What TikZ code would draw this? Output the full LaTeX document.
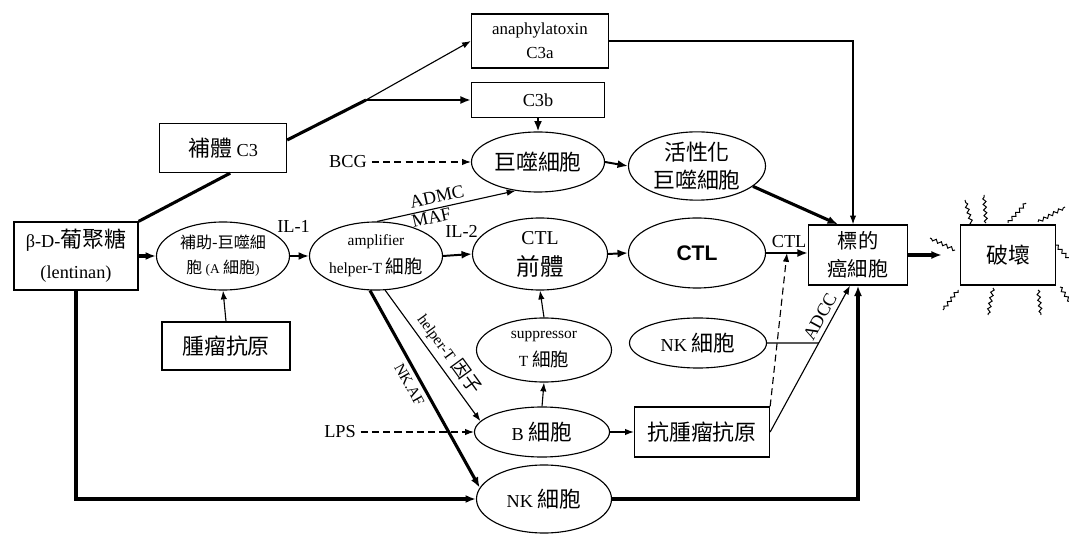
\documentclass[tikz,border=0pt]{standalone}
\usepackage{fontspec}
\setmainfont{Liberation Serif}
\newfontfamily\cjk[Scale=1.2]{Noto Sans CJK TC}
\newfontfamily\ctlfont{Liberation Sans}
\newcommand{\zh}[1]{{\cjk #1}}
\usetikzlibrary{positioning,arrows.meta,shapes.geometric,calc,decorations.pathmorphing}

\begin{document}
\begin{tikzpicture}[
  x=0.025cm, y=-0.025cm,
  font=\fontsize{13}{22}\selectfont,
  box/.style={draw, line width=0.9pt, align=center, inner sep=1pt},
  cell/.style={ellipse, draw, line width=0.8pt, align=center, inner sep=0pt},
  arr/.style={-{Latex[length=2.6mm,width=2mm]}, line width=1.4pt},
  heavy/.style={line width=2.2pt},
  thinarr/.style={-{Latex[length=2.2mm,width=1.6mm]}, line width=0.8pt},
  dasharr/.style={thinarr, dash pattern=on 5pt off 3pt},
  small/.style={font=\fontsize{11}{13}\selectfont},
  wiggle/.style={decorate, decoration={snake, amplitude=1.1pt, segment length=4pt}, line width=0.7pt}
]
\useasboundingbox (0,0) rectangle (1069,536);

\node[box, minimum width=3.1cm, minimum height=1.7cm] (lent) at (76,256) {β-D-\zh{葡聚糖}\\(lentinan)};
\node[box, minimum width=3.175cm, minimum height=1.225cm] (c3) at (223,148) {\zh{補體} C3};
\node[box, minimum width=3.425cm, minimum height=1.35cm, font=\fontsize{12}{17}\selectfont] (c3a) at (540,41) {anaphylatoxin\\C3a};
\node[box, minimum width=3.325cm, minimum height=0.875cm] (c3b) at (538,100) {C3b};
\node[cell, minimum width=3.325cm, minimum height=1.5cm] (macro) at (538,162) {\zh{巨噬細胞}};
\node[cell, minimum width=3.425cm, minimum height=1.675cm, font=\fontsize{13}{20}\selectfont] (act) at (697,166) {\zh{活性化}\\\zh{巨噬細胞}};
\node[cell, minimum width=3.325cm, minimum height=1.7cm, font=\fontsize{9.5}{18}\selectfont] (acell) at (223,256) {\zh{補助-巨噬細}\\\zh{胞} (A \zh{細胞})};
\node[box, minimum width=3.2cm, minimum height=1.2cm] (tag) at (226,346) {\zh{腫瘤抗原}};
\node[cell, minimum width=3.325cm, minimum height=1.7cm, font=\fontsize{11}{20}\selectfont] (amp) at (376,256) {amplifier\\helper-T \zh{細胞}};
\node[cell, minimum width=3.375cm, minimum height=1.8cm, font=\fontsize{14}{22}\selectfont] (ctlp) at (540,254) {CTL\\\zh{前體}};
\node[cell, minimum width=3.425cm, minimum height=1.75cm, font=\fontsize{15}{18}\ctlfont\bfseries] (ctl) at (697,253) {CTL};
\node[box, minimum width=2.475cm, minimum height=1.5cm, font=\fontsize{12}{20}\selectfont] (target) at (858,255) {\zh{標的}\\\zh{癌細胞}};
\node[box, minimum width=2.375cm, minimum height=1.5cm] (brk) at (1008,255) {\zh{破壞}};
\node[cell, minimum width=3.375cm, minimum height=1.6cm, font=\fontsize{11}{20}\selectfont] (supp) at (544,350) {suppressor\\T \zh{細胞}};
\node[cell, minimum width=3.425cm, minimum height=1.25cm] (nkr) at (698,343) {NK \zh{細胞}};
\node[cell, minimum width=3.375cm, minimum height=1.25cm] (bcell) at (542,432) {B \zh{細胞}};
\node[box, minimum width=3.375cm, minimum height=1.25cm] (ab) at (702,432) {\zh{抗腫瘤抗原}};
\node[cell, minimum width=3.375cm, minimum height=1.7cm] (nkb) at (544,499) {NK \zh{細胞}};
\node (bcg) at (348,162) {BCG};
\node (lps) at (340,432) {LPS};

\coordinate (c3fork) at (366,100);
\draw[heavy] (lent.north east) -- ([xshift=0.18cm]c3.south);
\draw[heavy] ([yshift=0.2cm]c3.east) -- (c3fork);
\draw[thinarr] (c3fork) -- (c3a.west);
\draw[arr] (c3fork) -- (c3fork -| c3b.west);
\draw[arr] (c3b.south) -- (macro.north);
\draw[dasharr] (bcg) -- (macro.west);
\draw[arr] (macro.east) -- (act.west);
\draw[arr, heavy] (act.-20) -- ([xshift=-0.5cm]target.north);
\draw[thinarr] (c3a.east) -| ([xshift=-0.125cm]target.north);

\draw[arr, heavy] (lent.east) -- (acell.west);
\draw[arr] (acell.east) -- node[above=0.45cm, xshift=-0.15cm] (il1) {IL-1} (amp.west);
\draw[thinarr] (tag.north) -- (acell.south);
\draw[arr] (amp.east) -- node[above=0.3cm, xshift=0.1cm] (il2) {IL-2} (ctlp.west);
\draw[thinarr] (amp.88) -- node[sloped, above, pos=0.45] (admc) {ADMC} node[sloped, below, pos=0.38, inner sep=1pt] (maf) {MAF} (macro.232);
\draw[arr] (ctlp.east) -- (ctl.west);
\draw[arr] (ctl.east) -- node[above, pos=0.55] (ctllab) {CTL} coordinate[pos=0.5] (ctlmid) (ctl.east -| target.west);

\draw[thinarr] (supp.north) -- (ctlp.south);
\draw[thinarr] (bcell.north) -- (supp.south);
\draw[thinarr] (amp.-75) -- node[sloped, above, pos=0.55, small] (htf) {helper-T \zh{因子}} (bcell.170);
\draw[arr, heavy] (amp.-100) -- node[sloped, below, pos=0.45, small] (nkaf) {NK.AF} (nkb.170);
\draw[dasharr] (lps) -- (bcell.west);
\draw[thinarr] (bcell.east) -- (ab.west);

\draw[dasharr] (ab.north east) -- (ctlmid);
\coordinate (adccend) at ([xshift=-0.2cm]target.south);
\coordinate (nkfar) at (nkr.east -| target.east);
\draw[thinarr] (ab.east) -- node[sloped, above, pos=0.75] (adcc) {ADCC} (adccend);
\draw[line width=0.8pt] (nkr.east) -- (intersection of ab.east--adccend and nkr.east--nkfar);

\draw[arr, heavy] (lent.south) |- (nkb.west);
\draw[arr, heavy] (nkb.east) -| (target.south);
\draw[arr, heavy, shorten >=0.45cm] (target.east) -- (brk.west);

\foreach \sx/\sy/\ex/\ey in {-36/-30/-7/-25, -22/-32/-2/-28, 0/-32/18/-20, 30/-33/27/-15,
    -53/-5/-25/-12, 48/-10/14/15, -50/35/-15/20, -15/33/-5/27, 30/35/3/25, 52/32/10/15}
  \draw[wiggle] ($(brk.center)+(\sx,\sy)$) -- ++(\ex,\ey);
\end{tikzpicture}
\end{document}
